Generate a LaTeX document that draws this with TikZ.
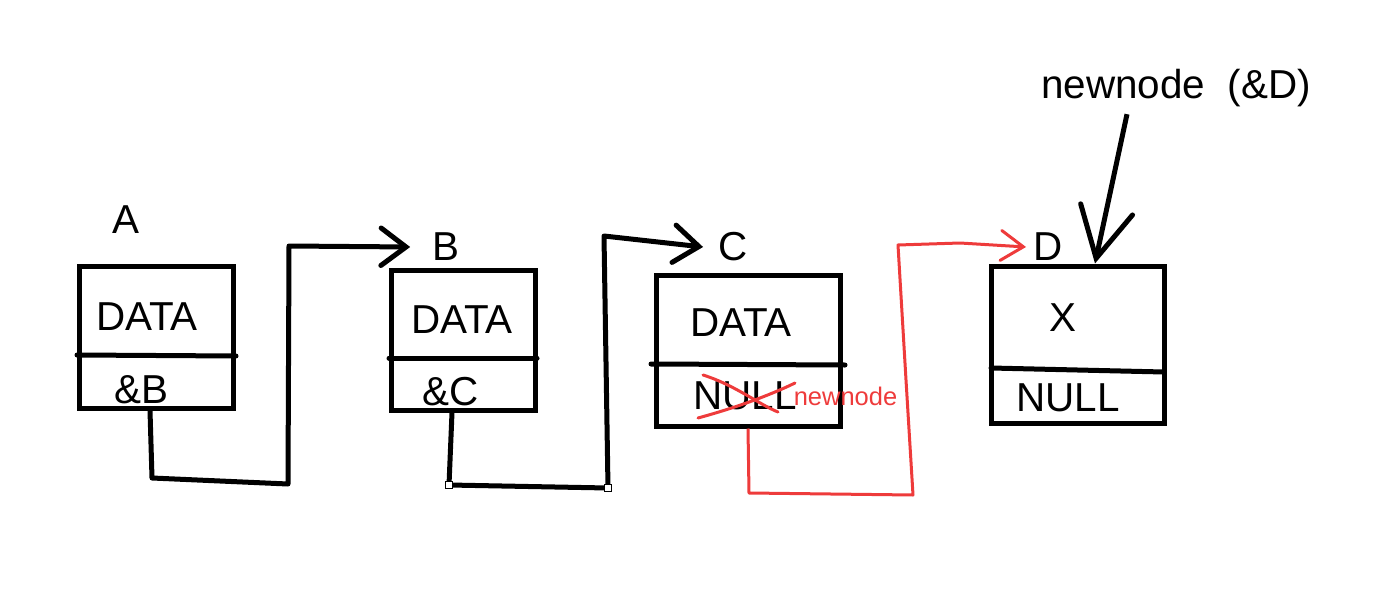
\documentclass[tikz,border=0pt]{standalone}
\usepackage{fontspec}
\setmainfont{Liberation Sans}
\usetikzlibrary{arrows.meta,positioning,calc}
\definecolor{ink}{HTML}{000000}
\definecolor{pen}{HTML}{EE3B3B}
\tikzset{
  cell/.style={draw=ink,line width=1mm,inner sep=0pt},
  rule/.style={draw=ink,line width=1mm,line cap=round},
  lbl/.style={font=\fontsize{23}{27}\selectfont,text=ink,inner sep=0pt},
  note/.style={font=\fontsize{14.5}{17}\selectfont,text=pen,inner sep=0pt},
  link/.style={draw=ink,line width=1mm,line join=round,-{Straight Barb[length=5mm,width=7.5mm,line cap=round]}},
  bigl/.style={link,-{Straight Barb[length=10mm,width=10.6mm,line cap=round]}},
  redl/.style={draw=pen,line width=.6mm,line join=round,-{Straight Barb[length=4.5mm,width=6mm,line cap=round]}},
  cross/.style={draw=pen,line width=.6mm,line cap=round},
  handle/.style={draw=ink,fill=white,line width=.25mm,minimum size=1.5mm,inner sep=0pt},
}
\begin{document}
\begin{tikzpicture}[x=.2mm,y=-.2mm]
  \useasboundingbox (0,0) rectangle (1387,591);
  % the four list cells
  \node[cell,minimum width=30.6mm,minimum height=28.4mm] (boxA) at (156.5,337) {};
  \node[cell,minimum width=28.8mm,minimum height=28mm] (boxB) at (463,340) {};
  \node[cell,minimum width=36.8mm,minimum height=30.2mm] (boxC) at (748,350.5) {};
  \node[cell,minimum width=34.6mm,minimum height=31.4mm] (boxD) at (1077.5,344.5) {};
  \draw[rule] (77,355)--(236,356); \draw[rule] (389,358)--(537,358);
  \draw[rule] (651,364)--(845,365); \draw[rule] (991,368)--(1164,372);

  \node[lbl] (labA) at (126,220) {A}; \node[lbl] (labB) at (446,247) {B};
  \node[lbl] (labC) at (733,247) {C}; \node[lbl] (labD) at (1048,247) {D};
  \node[lbl] (datA) at (147,317) {DATA}; \node[lbl] (ptrA) at (141,390) {\&B};
  \node[lbl] (datB) at (462,320) {DATA}; \node[lbl] (ptrB) at (451,392) {\&C};
  \node[lbl] (datC) at (741,323) {DATA}; \node[lbl] (ptrC) at (745,396) {NULL};
  \node[lbl] (datD) at (1063,318) {X}; \node[lbl] (ptrD) at (1068,398) {NULL};
  \node[lbl] (labNew) at (1176,88) {newnode~~(\&D)};
  \node[note] (fix) at (845.5,396) {newnode};

  % A -> B, B -> C
  \draw[link] ([xshift=-1.3mm]boxA.south) -- (152,478) -- (288,484) -- (289,246) -- ([xshift=-4.4mm]labB.west);
  \coordinate (bc1) at (449,485); \coordinate (bc2) at (608,488);
  \draw[link] ([xshift=-2.2mm]boxB.south) -- (bc1) -- (bc2) -- (604,236) -- ([xshift=-3mm]labC.west);
  \node[handle] (hb1) at (bc1) {}; \node[handle] (hb2) at (bc2) {};

  % C -> D rewritten in red
  \draw[cross] (703,375) .. controls (735,385) and (760,405) .. (778,412);
  \draw[cross] (698,418) .. controls (720,412) and (760,400) .. (795,383);
  \draw[redl] (boxC.south) -- (749,493) -- (913,495) -- (906,380) -- (898,245) -- (960,243) -- ([xshift=-1.4mm]labD.west);

  \draw[bigl] ([xshift=-9.8mm,yshift=-1.4mm]labNew.south) -- ([xshift=3.5mm]boxD.north);
\end{tikzpicture}
\end{document}
